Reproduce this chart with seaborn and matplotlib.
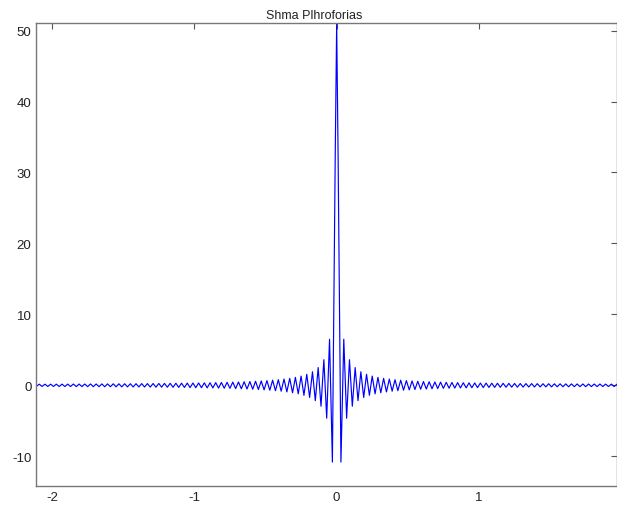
import numpy as np
import pandas as pd
import matplotlib
matplotlib.use("Agg")
import matplotlib.pyplot as plt
import seaborn as sns

# values at the ripple extrema (step 0.02)
left_side = [
    -0.15, 0.16, -0.16, 0.16, -0.16, 0.16, -0.16,
    0.16, -0.17, 0.17, -0.17, 0.17, -0.17, 0.18, -0.18, 0.18, -0.18,
    0.18, -0.19, 0.19, -0.19, 0.19, -0.19, 0.20, -0.20, 0.20, -0.20,
    0.21, -0.21, 0.21, -0.22, 0.22, -0.22, 0.22, -0.23, 0.23, -0.23,
    0.24, -0.24, 0.24, -0.25, 0.25, -0.26, 0.26, -0.26, 0.27, -0.27,
    0.28, -0.28, 0.29, -0.29, 0.30, -0.30, 0.31, -0.32, 0.32, -0.33,
    0.33, -0.34, 0.35, -0.36, 0.36, -0.37, 0.38, -0.39, 0.40, -0.41,
    0.42, -0.43, 0.45, -0.46, 0.47, -0.49, 0.50, -0.52, 0.53, -0.55,
    0.57, -0.59, 0.61, -0.64, 0.66, -0.69, 0.72, -0.76, 0.79, -0.83,
    0.88, -0.93, 0.98, -1.05, 1.12, -1.20, 1.30, -1.41, 1.55, -1.71,
    1.91, -2.16, 2.50, -2.95, 3.61, -4.64, 6.49, -10.82, 32.47,
]
peak_value = 51.0
right_side = [
    32.47, -10.82, 6.49, -4.64, 3.61, -2.95, 2.50, -2.16, 1.91, -1.71,
    1.55, -1.41, 1.30, -1.20, 1.12, -1.05, 0.98, -0.93, 0.88, -0.83,
    0.79, -0.76, 0.72, -0.69, 0.66, -0.64, 0.61, -0.59, 0.57, -0.55,
    0.53, -0.52, 0.50, -0.49, 0.47, -0.46, 0.45, -0.43, 0.42, -0.41,
    0.40, -0.39, 0.38, -0.37, 0.36, -0.36, 0.35, -0.34, 0.33, -0.33,
    0.32, -0.32, 0.31, -0.30, 0.30, -0.29, 0.29, -0.28, 0.28, -0.27,
    0.27, -0.26, 0.26, -0.26, 0.25, -0.25, 0.24, -0.24, 0.24, -0.23,
    0.23, -0.23, 0.22, -0.22, 0.22, -0.22, 0.21, -0.21, 0.21, -0.20,
    0.20, -0.20, 0.20, -0.19, 0.19, -0.19, 0.19, -0.19, 0.18, -0.18,
    0.18, -0.18, 0.18, -0.17, 0.17, -0.17, 0.17, -0.17, 0.16,
]
x_ticks = [-2, -1, 0, 1]
y_ticks = [-10, 0, 10, 20, 30, 40, 50]
title = "Shma Plhroforias"

# sample grid: extrema sit at odd multiples of 0.01
x_left = np.linspace(-2.11, -0.01, len(left_side))
x_right = np.linspace(0.01, 1.97, len(right_side))
df = pd.DataFrame({
    "x": np.concatenate([x_left, [0.0], x_right]),
    "y": left_side + [peak_value] + right_side,
})

sns.set_style("white")
plt.rcParams["font.family"] = ["Liberation Sans", "DejaVu Sans"]
plt.rcParams["axes.unicode_minus"] = False

fig = plt.figure(figsize=(6.17, 5.10), dpi=100)
ax = fig.add_axes([0.059, 0.045, 0.941, 0.907])

sns.lineplot(data=df, x="x", y="y", color="#0000ff", linewidth=0.85,
             estimator=None, sort=False, ax=ax)

ax.set_xlim(-2.11, 1.97)
ax.set_ylim(-14.2, 51)
ax.set_xticks(x_ticks)
ax.set_yticks(y_ticks)
ax.set_xlabel("")
ax.set_ylabel("")
ax.tick_params(direction="in", length=4, width=0.8, colors="#555555",
               labelcolor="#222222", labelsize=9.5,
               top=True, right=True)
for s in ax.spines.values():
    s.set_color("#777777")
    s.set_linewidth(1.0)

t = ax.set_title(title, fontsize=9, color="#222222", pad=4)
t.set_x(0.478)

fig.savefig("out.png", dpi=100)
